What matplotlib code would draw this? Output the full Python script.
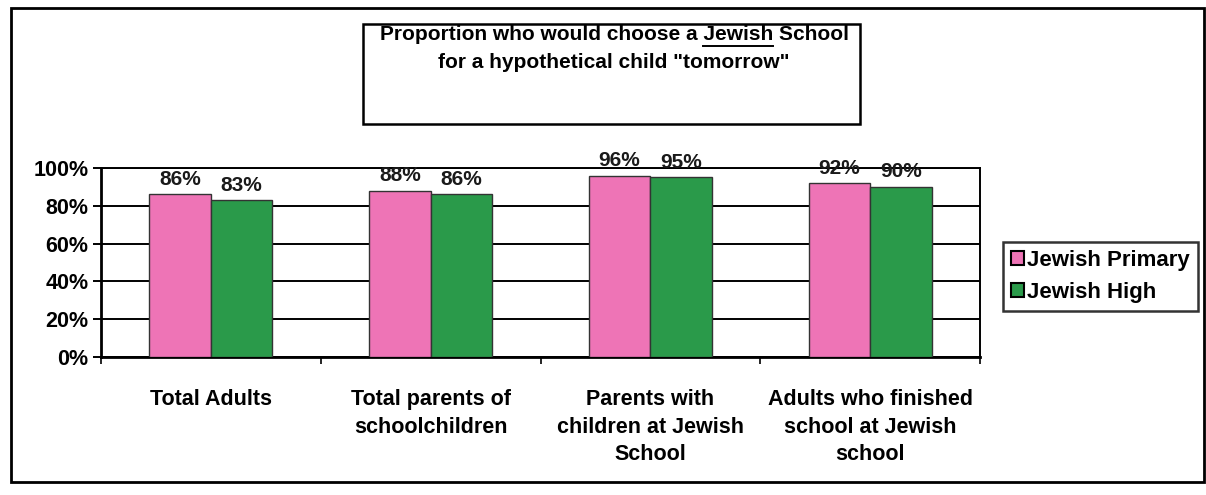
import matplotlib.pyplot as plt
import numpy as np
from matplotlib.patches import Rectangle
from matplotlib.lines import Line2D

categories = [
    "Total Adults",
    "Total parents of\nschoolchildren",
    "Parents with\nchildren at Jewish\nSchool",
    "Adults who finished\nschool at Jewish\nschool",
]
primary = [86, 88, 96, 92]
high = [83, 86, 95, 90]
series_names = ["Jewish Primary", "Jewish High"]
y_ticks = [0, 20, 40, 60, 80, 100]

PINK = "#ee74b6"
GREEN = "#2a9a4a"
FONT = "Liberation Sans"

W, H = 1206, 495
fig = plt.figure(figsize=(W / 100, H / 100), dpi=100)
fig.patch.set_facecolor("white")


def px_box(x0, y0, x1, y1):
    # pixel box (top-left origin) -> figure fraction [left, bottom, width, height]
    return [x0 / W, 1 - y1 / H, (x1 - x0) / W, (y1 - y0) / H]


ax = fig.add_axes(px_box(101, 168, 980, 357))

x = np.arange(len(categories))
bw = 0.28
b1 = ax.bar(x - bw / 2, primary, bw, color=PINK, edgecolor="#333333",
            linewidth=1.0, zorder=3, label=series_names[0])
b2 = ax.bar(x + bw / 2, high, bw, color=GREEN, edgecolor="#333333",
            linewidth=1.0, zorder=3, label=series_names[1])

for bars, vals in ((b1, primary), (b2, high)):
    for rect, v in zip(bars, vals):
        ax.annotate(f"{v}%", (rect.get_x() + rect.get_width() / 2, v),
                    xytext=(0, 4), textcoords="offset points",
                    ha="center", va="bottom", fontsize=15,
                    fontweight="bold", family=FONT, color="#1a1a1a",
                    zorder=4, annotation_clip=False)

ax.set_ylim(0, 100)
ax.set_xlim(-0.5, len(categories) - 0.5)
ax.set_yticks(y_ticks)
ax.set_yticklabels([f"{t}%" for t in y_ticks], fontsize=15.5,
                   fontweight="bold", family=FONT)
ax.yaxis.grid(True, color="black", linewidth=1.4, zorder=1)
ax.set_axisbelow(True)

ax.set_xticks(x)
ax.set_xticklabels(categories, fontsize=15.5, fontweight="bold", family=FONT,
                   linespacing=1.42, ha="center", multialignment="center")
ax.tick_params(axis="x", which="major", length=0, pad=23)
ax.set_xticks(np.arange(len(categories) + 1) - 0.5, minor=True)
ax.tick_params(axis="x", which="minor", length=5, width=1.2, direction="out")
ax.tick_params(axis="y", length=6, width=1.4, direction="out", pad=3)

for side in ("left", "bottom"):
    ax.spines[side].set_linewidth(2.0)
for side in ("top", "right"):
    ax.spines[side].set_linewidth(1.4)

# legend box at the right
leg = fig.legend(handles=[b1, b2], loc="upper left",
                 bbox_to_anchor=(1003 / W, 1 - 242 / H),
                 prop={"family": FONT, "weight": "bold", "size": 16},
                 frameon=True, fancybox=False, handlelength=0.6,
                 handleheight=0.6, handletextpad=0.15, borderpad=0.35,
                 labelspacing=0.5, borderaxespad=0)
leg.get_frame().set_edgecolor("black")
leg.get_frame().set_linewidth(1.8)
for h in leg.legend_handles:
    h.set_edgecolor("black")
    h.set_linewidth(1.5)

# title box with underlined word
tb = px_box(363, 24, 860, 124)
fig.add_artist(Rectangle((tb[0], tb[1]), tb[2], tb[3], transform=fig.transFigure,
                         fill=False, edgecolor="black", linewidth=1.8))
line1 = "Proportion who would choose a Jewish School"
line2 = 'for a hypothetical child "tomorrow"'
title_kw = dict(fontsize=15, fontweight="bold", family=FONT)
cx = 614 / W
t1 = fig.text(cx, 1 - 35 / H, line1, ha="center", va="center", **title_kw)
fig.text(cx, 1 - 63 / H, line2, ha="center", va="center", **title_kw)

renderer = fig.canvas.get_renderer()
full = t1.get_window_extent(renderer)
pre = fig.text(0, 0, "Proportion who would choose a Jewish", **title_kw)
word = fig.text(0, 0, "Jewish", **title_kw)
w_pre = pre.get_window_extent(renderer).width
w_word = word.get_window_extent(renderer).width
pre.remove()
word.remove()
ux1 = full.x0 + w_pre
ux0 = ux1 - w_word
uy = full.y0 - 1
fig.add_artist(Line2D([ux0 / W, ux1 / W], [uy / H, uy / H],
                      transform=fig.transFigure, color="black", linewidth=1.4))

# outer frame around the whole chart
ob = px_box(11, 8, 1204, 482)
fig.add_artist(Rectangle((ob[0], ob[1]), ob[2], ob[3], transform=fig.transFigure,
                         fill=False, edgecolor="black", linewidth=2.0))

fig.savefig("out.png", dpi=100)
